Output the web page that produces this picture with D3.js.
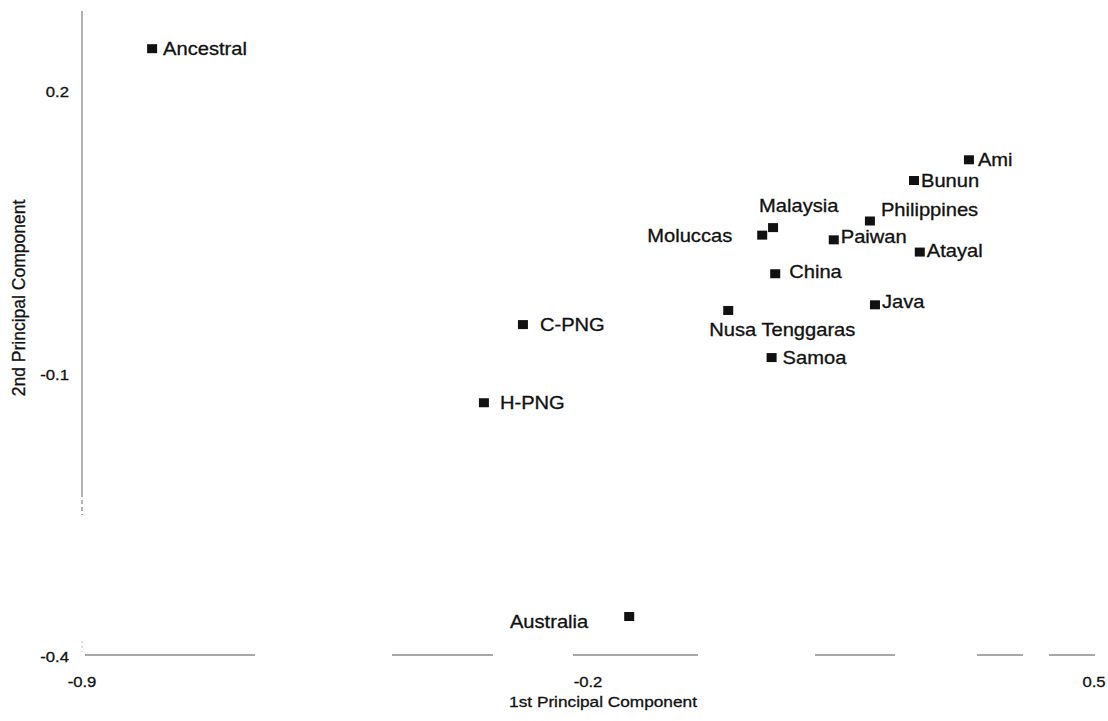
<!DOCTYPE html>
<html>
<head>
<meta charset="utf-8">
<script src="https://cdn.jsdelivr.net/npm/d3@7"></script>
<style>
  html, body { margin: 0; padding: 0; background: #fff; }
  text { font-family: "Liberation Sans", Arial, sans-serif; fill: #111; stroke: #111; stroke-width: 0.3px; }
</style>
</head>
<body>
<div id="vis"></div>
<script>
// data
const populations = ["Ancestral", "Ami", "Bunun", "Philippines", "Malaysia", "Moluccas", "Paiwan",
  "Atayal", "China", "Java", "Nusa Tenggaras", "C-PNG", "Samoa", "H-PNG", "Australia"];
const pc1 = [-0.803, 0.327, 0.251, 0.190, 0.056, 0.041, 0.140, 0.259, 0.059, 0.197, -0.006, -0.290, 0.054, -0.344, -0.143];
const pc2 = [0.246, 0.128, 0.106, 0.063, 0.056, 0.048, 0.043, 0.030, 0.007, -0.026, -0.032, -0.047, -0.082, -0.130, -0.357];

const xTicks = [-0.9, -0.2, 0.5];
const yTicks = [0.2, -0.1, -0.4];
const xTitle = "1st Principal Component";
const yTitle = "2nd Principal Component";

// where each label sits relative to its square: [dx, dy(baseline), anchor]
const labelPlacement = [
  [11, 6, "start"], [9, 6, "start"], [7, 6, "start"], [11, -5, "start"], [-14, -16, "start"],
  [-30, 7, "end"], [7, 3, "start"], [7, 5, "start"], [14, 4, "start"], [7, 3, "start"],
  [-19, 26, "start"], [17, 6, "start"], [11, 6, "start"], [16, 6, "start"], [-41, 11, "end"]
];

const W = 1108, H = 721;
const stretch = 1.15; // the scan is a bit wider than tall

const svg = d3.select("#vis").append("svg")
  .attr("width", W)
  .attr("height", H);

const x = d3.scaleLinear().domain([-0.9, 0.5]).range([82, 1094]);
const y = d3.scaleLinear().domain([-0.4, 0.2]).range([657, 92]);

// y axis line (a bit broken at the bottom, like the scan)
svg.append("line")
  .attr("x1", x(-0.9)).attr("x2", x(-0.9))
  .attr("y1", 11).attr("y2", 515)
  .attr("stroke", "#8a8a8a")
  .attr("stroke-width", 1.3)
  .attr("stroke-dasharray", "486,3,4,3,4,3,4");

svg.append("line")
  .attr("x1", x(-0.9)).attr("x2", x(-0.9))
  .attr("y1", 641).attr("y2", 652)
  .attr("stroke", "#bbb")
  .attr("stroke-width", 1)
  .attr("stroke-dasharray", "2,3");

// x axis line, only faint pieces survive
svg.append("line")
  .attr("x1", 85).attr("x2", 1095)
  .attr("y1", y(-0.4) - 2).attr("y2", y(-0.4) - 2)
  .attr("stroke", "#8a8a8a")
  .attr("stroke-width", 1.3)
  .attr("stroke-dasharray", "170,137,101,80,125,117,80,82,46,26,46");

// tick labels
svg.selectAll(".ytick")
  .data(yTicks)
  .join("text")
  .attr("class", "ytick")
  .attr("transform", d => `translate(69,${y(d) + 5}) scale(${stretch},1)`)
  .attr("text-anchor", "end")
  .style("font-size", "14.5px")
  .text(d => d);

svg.selectAll(".xtick")
  .data(xTicks)
  .join("text")
  .attr("class", "xtick")
  .attr("transform", d => `translate(${x(d)},687) scale(${stretch},1)`)
  .attr("text-anchor", "middle")
  .style("font-size", "14.5px")
  .text(d => d);

// axis titles
svg.append("text")
  .attr("transform", `translate(603,707) scale(${stretch},1)`)
  .attr("text-anchor", "middle")
  .style("font-size", "15px")
  .text(xTitle);

svg.append("text")
  .attr("transform", `translate(25,298) rotate(-90)`)
  .attr("text-anchor", "middle")
  .style("font-size", "17.5px")
  .text(yTitle);

// points
const pts = populations.map((name, i) => ({ name, pc1: pc1[i], pc2: pc2[i], place: labelPlacement[i] }));

const sqW = 10, sqH = 9;
svg.selectAll(".pt")
  .data(pts)
  .join("rect")
  .attr("class", "pt")
  .attr("x", d => x(d.pc1) - sqW / 2)
  .attr("y", d => y(d.pc2) - sqH / 2)
  .attr("width", sqW)
  .attr("height", sqH)
  .attr("fill", "#111");

svg.selectAll(".lbl")
  .data(pts)
  .join("text")
  .attr("class", "lbl")
  .attr("transform", d => `translate(${x(d.pc1) + d.place[0]},${y(d.pc2) + d.place[1]}) scale(${stretch},1)`)
  .attr("text-anchor", d => d.place[2])
  .style("font-size", "17.5px")
  .text(d => d.name);
</script>
</body>
</html>
